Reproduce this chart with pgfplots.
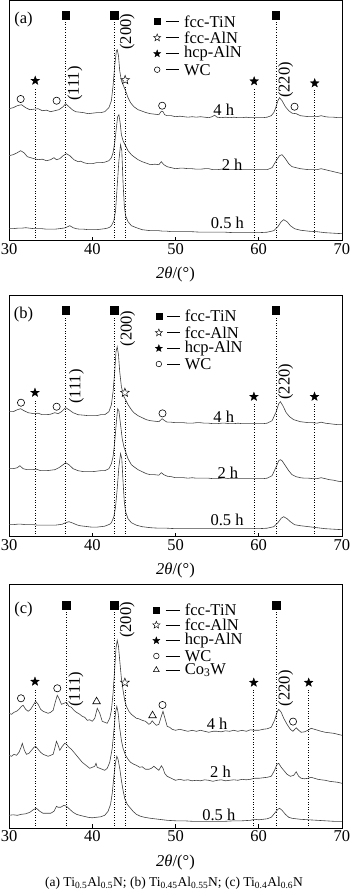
\documentclass[border=0pt]{standalone}
\usepackage{fontspec}
\setmainfont{Liberation Serif}
\usepackage{pgfplots}
\pgfplotsset{compat=1.18}
\newcommand\fs{\fontsize{16.5pt}{19pt}\selectfont}
\pgfdeclareplotmark{fstar}{%
  \pgfpathmoveto{\pgfpointpolar{90}{\pgfplotmarksize}}%
  \pgfpathlineto{\pgfpointpolar{126}{0.42\pgfplotmarksize}}%
  \pgfpathlineto{\pgfpointpolar{162}{\pgfplotmarksize}}%
  \pgfpathlineto{\pgfpointpolar{198}{0.42\pgfplotmarksize}}%
  \pgfpathlineto{\pgfpointpolar{234}{\pgfplotmarksize}}%
  \pgfpathlineto{\pgfpointpolar{270}{0.42\pgfplotmarksize}}%
  \pgfpathlineto{\pgfpointpolar{306}{\pgfplotmarksize}}%
  \pgfpathlineto{\pgfpointpolar{342}{0.42\pgfplotmarksize}}%
  \pgfpathlineto{\pgfpointpolar{18}{\pgfplotmarksize}}%
  \pgfpathlineto{\pgfpointpolar{54}{0.42\pgfplotmarksize}}%
  \pgfpathclose\pgfusepathqfillstroke}
\tikzset{lt/.style={anchor=west, inner sep=0pt}}
\pgfplotsset{
  xrd/.style={scale only axis, width=333pt, xmin=30, xmax=70, ymin=0,
    ytick=\empty, xtick={30,40,50,60,70}, tick align=inside, xtick pos=lower,
    major tick length=4pt, axis line style={line width=0.8pt},
    every tick/.style={black, line width=0.6pt},
    /pgf/number format/assume math mode=true,
    xticklabel style={font=\fs, yshift=1pt},
    xlabel={\textit{2θ}/(°)},
    xlabel style={at={(axis description cs:0.5,0)}, anchor=center, yshift=-34pt, font=\fs},
    clip=false},
  cv/.style={black!75, line width=0.6pt},
  vl/.style={black, dotted, line width=0.6pt},
  sq/.style={only marks, mark=square*, mark size=3.8pt, mark options={fill=black}},
  hs/.style={only marks, mark=fstar, mark size=4.6pt, mark options={fill=black, line width=0.3pt}},
  os/.style={only marks, mark=fstar, mark size=4.6pt, mark options={fill=white, line width=0.5pt}},
  ci/.style={only marks, mark=o, mark size=3.6pt, mark options={line width=0.6pt}},
  tr/.style={only marks, mark=triangle, mark size=4.4pt, mark options={line width=0.6pt}},
  lsq/.style={only marks, mark=square*, mark size=3.0pt, mark options={fill=black}},
  lhs/.style={only marks, mark=fstar, mark size=3.8pt, mark options={fill=black, line width=0.3pt}},
  los/.style={only marks, mark=fstar, mark size=3.8pt, mark options={fill=white, line width=0.45pt}},
  lci/.style={only marks, mark=o, mark size=2.8pt, mark options={line width=0.55pt}},
  ltr/.style={only marks, mark=triangle, mark size=3.4pt, mark options={line width=0.55pt}},
  dash/.style={black, line width=0.6pt},
}
\begin{document}
\begin{tikzpicture}[every node/.append style={font=\fs}]
\useasboundingbox (0,0) rectangle (350pt,895pt);
% ---------------- (a)
\begin{axis}[xrd, at={(9pt,654.3pt)}, anchor=south west, height=240pt, ymax=240]
\addplot[cv] coordinates {(30,132)(30.5,133)(31,135)(31.5,136)(32,133)(32.5,131)(33,131.5)(33.5,132)(34,130)(34.5,130.5)(35,129)(35.5,130)(36,131)(36.5,134)(36.8,137)(37.2,134)(37.6,131)(38,129)(38.5,128.5)(39,128)(39.5,127)(40,127.5)(40.5,128)(41,128)(41.5,129)(42,133)(42.3,140)(42.5,155)(42.7,175)(42.9,190)(43.0,191)(43.15,185)(43.3,170)(43.5,160)(43.8,154)(44,150)(44.3,143)(44.6,138)(45,134)(45.5,131)(46,129.5)(46.5,128)(47,127)(47.5,126.5)(48,126)(48.3,129.5)(48.5,129)(48.7,126)(49,125)(49.5,125)(50,124)(50.5,124.5)(51,124)(51.5,123.5)(52,124)(52.5,123.5)(53,124)(53.5,123.5)(54,123)(54.4,124)(54.7,125.5)(55,123.5)(55.5,123)(56,123.5)(56.5,123)(57,123.5)(57.5,123)(58,123)(58.5,123.5)(59,123)(59.5,123)(60,123)(60.5,123)(61,123.5)(61.5,125)(61.8,128)(62,132)(62.3,140)(62.5,143)(62.8,140)(63.2,134)(63.6,130)(64,127.5)(64.5,127)(65,125)(65.5,124.5)(66,124)(66.5,124)(67,124)(67.5,125)(68,124)(68.5,123.5)(69,123.5)(69.5,123)(70,123)};
\addplot[cv] coordinates {(30,85)(30.5,86)(31,88)(31.4,90)(31.8,88)(32.2,84)(32.6,83)(33,82)(33.5,81)(34,81.5)(34.5,80)(35,81)(35.4,83)(35.7,81)(36.1,82)(36.5,85)(36.9,87)(37.3,85)(37.8,81)(38.3,79)(38.6,79.5)(39,78)(39.5,77)(40,77)(40.5,78)(41,78)(41.5,78.5)(42,80)(42.3,83)(42.5,88)(42.7,98)(42.9,113)(43.05,124)(43.2,126)(43.35,118)(43.5,106)(43.7,100)(44,95)(44.3,90)(44.7,86)(45,84)(45.5,81)(46,79)(46.5,77.5)(47,76)(47.5,76.5)(48,76)(48.3,79)(48.6,76)(49,74)(49.5,73)(50,72)(50.5,72.5)(51,72.5)(51.5,72)(52,72)(52.5,71.5)(53,71.5)(53.5,72)(54,72)(54.5,71)(55,71)(55.5,71.5)(56,71.5)(56.5,71)(57,71)(57.5,71.5)(58,71)(58.5,71)(59,71)(59.5,71)(60,71)(60.5,71)(61,71)(61.6,73)(62.1,80)(62.5,85)(62.8,86)(63.2,82)(63.6,77)(64,74)(64.5,73)(65,72)(65.5,71.5)(66,71)(66.5,71)(67,71)(67.5,72)(68,71)(68.5,70)(69,69)(69.5,68)(70,67)};
\addplot[cv] coordinates {(30,12)(30.5,12)(31,12.5)(31.5,12.5)(32,13)(32.5,12.5)(33,12)(33.5,12)(34,12)(34.5,11.5)(35,11.5)(35.5,11.5)(36,12)(36.5,12.5)(36.8,13)(37.3,15)(37.7,13)(38.1,12)(38.5,11.5)(39,11.5)(39.5,11)(40,11)(40.5,11)(41,11.5)(41.5,12)(41.8,12.5)(42.1,13.5)(42.3,15)(42.6,20)(42.8,30)(43.0,55)(43.2,80)(43.4,96)(43.55,90)(43.7,58)(43.85,35)(44.0,25)(44.3,19)(44.7,15)(45.3,13)(46,11)(46.5,10.5)(47,10)(47.5,10)(48,10)(48.5,9.5)(49,9.5)(49.5,9)(50,9)(51,9)(52,9)(53,8.5)(54,8.5)(55,8.5)(56,8.5)(57,8)(58,8)(59,8)(60,8)(61,8.5)(61.8,10)(62.3,14)(62.7,19)(63.0,21)(63.4,19)(63.8,15)(64.3,12)(65,10.5)(65.5,10)(66,9.5)(67,9)(68,8)(69,7.5)(70,7)};
\addplot[vl] coordinates {(33.15,0)(33.15,153)};
\addplot[vl] coordinates {(36.8,0)(36.8,219)};
\addplot[vl] coordinates {(42.62,0)(42.62,219)};
\addplot[vl] coordinates {(43.95,0)(43.95,155)};
\addplot[vl] coordinates {(59.45,0)(59.45,153)};
\addplot[vl] coordinates {(62.05,0)(62.05,219)};
\addplot[vl] coordinates {(66.72,0)(66.72,151)};
\addplot[sq] coordinates {(36.8,225.7)(42.62,225.7)(62.05,225.7)};
\addplot[hs] coordinates {(33.15,160)(59.45,159.5)(66.72,157.5)};
\addplot[os] coordinates {(43.95,160.7)};
\addplot[ci] coordinates {(31.4,141.7)(35.72,140)(48.4,135)(64.3,134)};
\addplot[lsq] coordinates {(47.8,219)};
\addplot[los] coordinates {(47.8,203)};
\addplot[lhs] coordinates {(47.8,187)};
\addplot[lci] coordinates {(47.8,171)};
\addplot[dash] coordinates {(48.85,219)(50.45,219)};
\addplot[dash] coordinates {(48.85,203)(50.45,203)};
\addplot[dash] coordinates {(48.85,187)(50.45,187)};
\addplot[dash] coordinates {(48.85,171)(50.45,171)};
\node[lt] at (axis cs:51.0,219) {fcc-TiN};
\node[lt] at (axis cs:51.0,203) {fcc-AlN};
\node[lt] at (axis cs:51.0,187) {hcp-AlN};
\node[lt] at (axis cs:51.0,171) {WC};
\node at (axis cs:31.75,220.7) {(a)};
\node[rotate=90] at (axis cs:37.92,157) {(111)};
\node[rotate=90] at (axis cs:44.2,209) {(200)};
\node[rotate=90] at (axis cs:63.24,160.7) {(220)};
\node at (axis cs:55.8,130.7) {4 h};
\node at (axis cs:56.8,76.3) {2 h};
\node at (axis cs:56.24,18) {0.5 h};
\end{axis}
% ---------------- (b)
\begin{axis}[xrd, at={(9pt,358.3pt)}, anchor=south west, height=241.7pt, ymax=241.7]
\addplot[cv] coordinates {(30,125)(30.5,125)(31,127)(31.4,128)(31.8,126)(32.3,124)(33,123)(33.5,123.5)(34,122)(34.5,122)(35,122.5)(35.5,124)(35.9,123)(36.3,125)(36.8,129)(37.2,127)(37.7,124)(38.3,122)(39,121.5)(39.5,121)(40,121)(40.5,121)(41,122)(41.5,122)(42,125)(42.3,132)(42.5,145)(42.7,165)(42.85,185)(43.0,190)(43.15,182)(43.3,165)(43.5,150)(43.8,140)(44,137)(44.3,132)(44.7,127)(45,124)(45.5,121)(46,119)(46.5,117)(47,116)(47.5,115.5)(48,115)(48.4,118)(48.7,116)(49,114.5)(49.5,114.5)(50,114)(50.5,114)(51,114)(51.5,113.5)(52,113.5)(52.5,114)(53,114)(53.5,113.5)(54,113.5)(54.5,113)(55,113)(55.5,113.5)(56,113.5)(56.5,113)(57,113)(57.5,113.5)(58,113)(58.5,113)(59,113)(59.5,113)(60,113)(60.5,113)(61,113.5)(61.6,116)(62.1,125)(62.4,133)(62.6,135)(62.9,131)(63.3,124)(63.7,120)(64.2,117)(64.6,116)(65,115)(65.5,114.5)(66,114)(66.5,114)(67,113.5)(67.5,114.5)(68,113.5)(68.5,113)(69,112.5)(69.5,112)(70,112)};
\addplot[cv] coordinates {(30,68)(30.5,68)(31,69)(31.3,71)(31.7,68)(32.2,67)(32.8,67)(33.3,67.5)(33.8,66)(34.5,66)(35,66.5)(35.5,67)(36,69)(36.5,72)(36.8,74)(37.2,72)(37.7,68)(38.3,66)(39,65)(39.5,65)(40,65)(40.5,65.5)(41,66)(41.5,66)(42,68)(42.3,73)(42.5,80)(42.7,95)(42.9,115)(43.05,128)(43.2,126)(43.4,112)(43.6,98)(43.8,90)(44,85)(44.3,78)(44.7,72)(45,70)(45.5,67)(46,65)(46.5,63)(47,62)(47.5,62)(48,61.5)(48.3,64)(48.6,62)(49,60.5)(49.5,60)(50,59)(50.5,59)(51,59)(51.5,58.5)(52,59)(52.5,58.5)(53,58.5)(53.5,58.5)(54,58.5)(54.5,58)(55,58)(55.5,58.5)(56,58.5)(56.5,58)(57,58)(57.5,58)(58,58)(58.5,58)(59,58)(59.5,58)(60,58)(60.5,58)(61,58.5)(61.6,61)(62.1,70)(62.4,76)(62.6,77)(62.8,76)(63.2,71)(63.6,66)(64,62)(64.5,60)(65,59)(65.5,58.5)(66,58.5)(66.5,58)(67,58)(67.5,59)(68,58)(68.5,57)(69,56.5)(69.5,55.5)(70,55)};
\addplot[cv] coordinates {(30,12)(30.5,12)(31,12.5)(31.5,12.5)(32,12)(32.5,12)(33,12)(33.5,11.5)(34,11.5)(34.5,11.5)(35,11.5)(35.5,11.5)(36,12)(36.4,12.5)(36.8,14)(37.2,15)(37.7,13.5)(38.1,12)(38.5,11)(39,10.5)(39.5,10)(40,9.5)(40.5,9.5)(41,10)(41.5,10.5)(41.8,11.5)(42.1,12.5)(42.3,14)(42.6,20)(42.8,30)(43.0,48)(43.2,70)(43.4,83)(43.55,78)(43.7,55)(43.85,35)(44.0,25)(44.3,18)(44.7,14)(45.3,11.5)(46,10)(46.5,9.5)(47,9)(48,8.5)(49,8.5)(50,8)(51,8)(52,8)(53,8)(54,8)(55,8)(56,8)(57,8)(58,8)(59,8)(60,8)(61,8.5)(61.8,10)(62.3,14)(62.7,18.5)(63.0,20)(63.4,18)(63.8,15)(64.3,12)(65,11)(65.5,10.5)(66,10)(67,9)(68,8)(69,7.5)(70,7)};
\addplot[vl] coordinates {(33.12,0)(33.12,137)};
\addplot[vl] coordinates {(36.82,0)(36.82,220)};
\addplot[vl] coordinates {(42.64,0)(42.64,220)};
\addplot[vl] coordinates {(43.92,0)(43.92,137)};
\addplot[vl] coordinates {(59.42,0)(59.42,133)};
\addplot[vl] coordinates {(62.05,0)(62.05,220)};
\addplot[vl] coordinates {(66.7,0)(66.7,133)};
\addplot[sq] coordinates {(36.82,226.7)(42.64,226.7)(62.05,226.7)};
\addplot[hs] coordinates {(33.12,144)(59.42,140)(66.7,140)};
\addplot[os] coordinates {(43.92,144)};
\addplot[ci] coordinates {(31.44,134)(35.72,130)(48.44,123.3)};
\addplot[lsq] coordinates {(48.0,220.7)};
\addplot[los] coordinates {(48.0,204)};
\addplot[lhs] coordinates {(48.0,188.3)};
\addplot[lci] coordinates {(48.0,172.7)};
\addplot[dash] coordinates {(49.0,220.7)(50.6,220.7)};
\addplot[dash] coordinates {(49.0,204)(50.6,204)};
\addplot[dash] coordinates {(49.0,188.3)(50.6,188.3)};
\addplot[dash] coordinates {(49.0,172.7)(50.6,172.7)};
\node[lt] at (axis cs:51.1,220.7) {fcc-TiN};
\node[lt] at (axis cs:51.1,204) {fcc-AlN};
\node[lt] at (axis cs:51.1,188.3) {hcp-AlN};
\node[lt] at (axis cs:51.1,172.7) {WC};
\node at (axis cs:31.75,221.7) {(b)};
\node[rotate=90] at (axis cs:38.1,150) {(111)};
\node[rotate=90] at (axis cs:44.24,208.3) {(200)};
\node[rotate=90] at (axis cs:63.24,155) {(220)};
\node at (axis cs:55.8,120) {4 h};
\node at (axis cs:56.3,64) {2 h};
\node at (axis cs:56.2,16.7) {0.5 h};
\end{axis}
% ---------------- (c)
\begin{axis}[xrd, at={(9pt,66.7pt)}, anchor=south west, height=244.3pt, ymax=244.3]
\addplot[cv] coordinates {(30,115)(30.3,114)(30.6,116)(30.9,117)(31.2,119)(31.5,122)(31.7,123)(32.0,119)(32.3,117)(32.6,119)(32.9,123)(33.2,127)(33.5,124)(33.8,119)(34.1,117)(34.4,116)(34.7,115)(35.0,116)(35.3,118)(35.55,126)(35.8,133)(36.0,130)(36.3,124)(36.6,125)(36.9,126)(37.2,122)(37.5,121)(37.8,118)(38.1,116)(38.5,114)(38.8,112)(39.1,111)(39.4,108)(39.7,108.5)(40.0,107)(40.3,110)(40.6,120)(40.9,115)(41.2,107)(41.5,106)(41.8,105)(42.1,110)(42.3,118)(42.5,135)(42.7,160)(42.85,180)(43.0,188)(43.15,182)(43.3,168)(43.5,150)(43.7,138)(43.9,128)(44.1,122)(44.4,117)(44.7,114)(45.0,112)(45.3,110)(45.6,109.5)(46.0,108)(46.4,107)(46.8,104)(47.0,105)(47.2,107.5)(47.45,105)(47.7,103)(48.0,104)(48.3,112)(48.5,117)(48.7,111)(49.0,102)(49.3,101)(49.6,99)(50,98)(50.5,99)(51,98)(51.5,97)(52,98)(52.5,97)(53,98)(53.5,97)(54,96)(54.5,97)(55,97)(55.5,96.5)(56,97.5)(56.5,97)(57,98)(57.5,97)(58,98)(58.5,97)(59,98.5)(59.5,98)(60,98)(60.5,99)(61,99.5)(61.5,101)(61.9,108)(62.2,116)(62.4,119)(62.7,116)(63.0,110)(63.4,104)(63.8,99)(64.1,97)(64.5,100.5)(64.8,98)(65.1,96)(65.5,96.5)(65.9,98)(66.3,100)(66.7,99)(67.1,98)(67.5,97)(68,96)(68.5,95.5)(69,95)(69.5,94)(70,93)};
\addplot[cv] coordinates {(30,73)(30.3,72)(30.6,74)(30.9,73)(31.2,76)(31.45,81)(31.6,85)(31.85,78)(32.1,74)(32.4,75)(32.7,78)(33.0,81)(33.2,82)(33.5,79)(33.8,76)(34.1,74)(34.4,73)(34.7,72)(35.0,73)(35.3,74)(35.5,80)(35.7,87)(35.9,83)(36.1,78)(36.4,82)(36.7,85)(36.9,84)(37.2,81)(37.5,79)(37.8,76)(38.1,73)(38.5,69)(38.8,66)(39.1,64)(39.4,62)(39.7,60)(40.0,61)(40.3,62)(40.45,65)(40.6,61)(40.9,60)(41.2,59)(41.5,58)(41.8,60)(42.1,66)(42.4,80)(42.6,98)(42.8,116)(42.95,122)(43.1,116)(43.3,100)(43.5,88)(43.7,80)(44.0,73)(44.3,69)(44.6,66)(45.0,64)(45.3,63)(45.7,61)(46.0,61.5)(46.4,59)(46.8,59)(47.1,60)(47.4,62)(47.7,60)(48.0,58)(48.3,62.5)(48.5,60)(48.7,55)(49.0,52)(49.5,50)(50,48)(50.5,49)(51,48)(51.5,48.5)(52,47.5)(52.5,48)(53,47.5)(53.5,48.5)(54,48)(54.5,47)(55,48)(55.5,48.5)(56,47.5)(56.5,48)(57,48.5)(57.5,48)(58,49)(58.5,48.5)(59,49)(59.5,50)(60,50)(60.5,50.5)(61,51)(61.5,52)(61.9,58)(62.2,64)(62.4,65)(62.7,61)(63.0,58)(63.4,54)(63.8,52)(64.2,53)(64.5,56.5)(64.8,52)(65.1,50)(65.5,49.5)(65.9,50)(66.3,51)(66.7,50)(67.1,49)(67.5,48.5)(68,48)(68.5,47)(69,46.5)(69.5,46)(70,45)};
\addplot[cv] coordinates {(30,13)(30.5,13.5)(31,13)(31.5,14)(32,14.5)(32.5,16)(33,19)(33.3,20)(33.7,17)(34.1,15)(34.5,15)(35,15)(35.4,17)(35.7,22)(35.9,21)(36.2,21)(36.6,23)(36.9,22)(37.3,19)(37.7,16)(38.1,14)(38.5,13)(39,12)(39.5,11)(40,10.5)(40.5,11)(41,11.5)(41.5,13)(41.9,17)(42.2,24)(42.4,35)(42.6,52)(42.8,66)(42.95,72)(43.1,69)(43.3,60)(43.5,48)(43.7,38)(43.9,30)(44.2,24)(44.5,21)(44.9,17)(45.3,14)(45.8,12)(46.3,11)(47,10)(48,9)(49,8)(50,7.5)(51,7.5)(52,7)(53,7)(54,7)(55,7)(56,7)(57,7.5)(58,7.5)(59,8)(59.5,9)(60,8.5)(60.5,9)(61,9.5)(61.5,11)(61.9,15)(62.3,19)(62.5,20)(62.8,18)(63.2,14)(63.6,11)(64,10)(65,9)(66,8.5)(67,8)(68,7.5)(69,7)(70,7)};
\addplot[vl] coordinates {(33.12,0)(33.12,140)};
\addplot[vl] coordinates {(36.85,0)(36.85,217)};
\addplot[vl] coordinates {(42.64,0)(42.64,217)};
\addplot[vl] coordinates {(43.92,0)(43.92,139)};
\addplot[vl] coordinates {(59.4,0)(59.4,139)};
\addplot[vl] coordinates {(62.08,0)(62.08,217)};
\addplot[vl] coordinates {(66.0,0)(66.0,139)};
\addplot[sq] coordinates {(36.85,223.3)(42.64,223.3)(62.08,223.3)};
\addplot[hs] coordinates {(33.12,146.7)(59.4,145.7)(66.0,145.7)};
\addplot[os] coordinates {(43.92,145.7)};
\addplot[ci] coordinates {(31.44,130)(35.8,140)(48.44,123.3)(64.12,106.7)};
\addplot[tr] coordinates {(40.52,126.7)(47.24,112.7)};
\addplot[lsq] coordinates {(47.7,218.3)};
\addplot[los] coordinates {(47.7,203.3)};
\addplot[lhs] coordinates {(47.7,187.7)};
\addplot[lci] coordinates {(47.7,172.3)};
\addplot[ltr] coordinates {(47.7,158.3)};
\addplot[dash] coordinates {(48.8,218.3)(50.5,218.3)};
\addplot[dash] coordinates {(48.8,203.3)(50.5,203.3)};
\addplot[dash] coordinates {(48.8,187.7)(50.5,187.7)};
\addplot[dash] coordinates {(48.8,172.3)(50.5,172.3)};
\addplot[dash] coordinates {(48.8,158.3)(50.5,158.3)};
\node[lt] at (axis cs:51.1,218.3) {fcc-TiN};
\node[lt] at (axis cs:51.1,203.3) {fcc-AlN};
\node[lt] at (axis cs:51.1,187.7) {hcp-AlN};
\node[lt] at (axis cs:51.1,172.3) {WC};
\node[lt] at (axis cs:51.1,158.3) {Co\textsubscript{3}W};
\node at (axis cs:31.75,218.3) {(c)};
\node[rotate=90] at (axis cs:38.04,139) {(111)};
\node[rotate=90] at (axis cs:44.2,208.3) {(200)};
\node[rotate=90] at (axis cs:63.24,140) {(220)};
\node at (axis cs:55.0,105) {4 h};
\node at (axis cs:55.4,56.7) {2 h};
\node at (axis cs:55.2,13.3) {0.5 h};
\end{axis}
\node[font=\fontsize{13.5pt}{16pt}\selectfont] at (174pt,12pt) {(a) Ti\textsubscript{0.5}Al\textsubscript{0.5}N; (b) Ti\textsubscript{0.45}Al\textsubscript{0.55}N; (c) Ti\textsubscript{0.4}Al\textsubscript{0.6}N};
\end{tikzpicture}
\end{document}
